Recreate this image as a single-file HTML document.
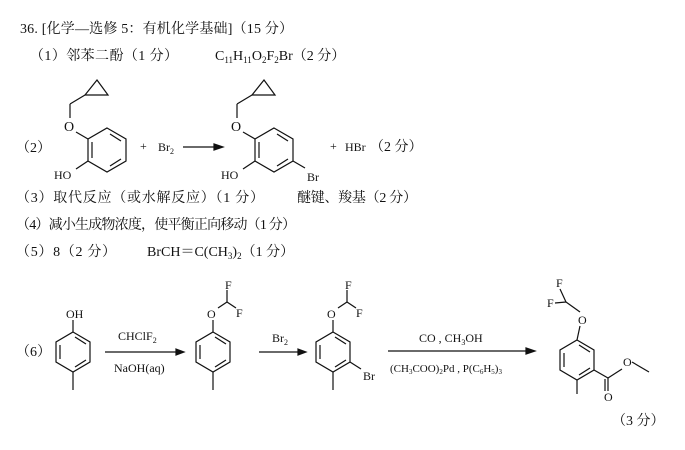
<!DOCTYPE html>
<html><head><meta charset="utf-8"><style>
html,body{margin:0;padding:0;background:#fff;}
svg{display:block}
text{font-family:"Liberation Serif","Noto Serif CJK SC",serif;fill:#111;font-size:14px}
.c{font-family:"Liberation Serif","Noto Serif CJK SC","Noto Sans CJK SC",serif;font-size:14px}
.s{font-size:12px}
line,polyline,polygon{stroke:#111;stroke-width:1.2;fill:none}
</style></head><body>
<svg width="685" height="450" viewBox="0 0 685 450">
<text x="20" y="33" class="c" textLength="273">36. [化学—选修 5：有机化学基础]（15 分）</text>
<text x="30" y="60" class="c" textLength="148">（1）邻苯二酚（1 分）</text>
<text x="215" y="60">C<tspan font-size="9" dy="3">11</tspan><tspan dy="-3">H</tspan><tspan font-size="9" dy="3">11</tspan><tspan dy="-3">O</tspan><tspan font-size="9" dy="3">2</tspan><tspan dy="-3">F</tspan><tspan font-size="9" dy="3">2</tspan><tspan dy="-3">Br（2 分）</tspan></text>

<!-- (2) -->
<text x="16" y="152" class="c">（2）</text>
<g id="m1">
<polygon points="107,128 126,139 126,161 107,172 88,161 88,139"/>
<line x1="110" y1="134" x2="121" y2="141"/><line x1="121" y1="159" x2="110" y2="166"/><line x1="92" y1="142" x2="92" y2="158"/>
<line x1="88" y1="139" x2="76" y2="132"/>
<text x="64" y="131">O</text>
<line x1="70" y1="118" x2="70" y2="104"/><line x1="70" y1="104" x2="85" y2="95"/>
<polygon points="85,95 108,95 97,80"/>
<line x1="88" y1="161" x2="76" y2="169"/>
<text x="54" y="179" class="s">HO</text>
</g>
<text x="140" y="150" class="s">+</text>
<text x="158" y="151" class="s">Br<tspan font-size="8" dy="3">2</tspan></text>
<line x1="183" y1="147" x2="214" y2="147"/><polygon points="214,144 223,147 214,150" style="fill:#111"/>
<g transform="translate(167,0)">
<polygon points="107,128 126,139 126,161 107,172 88,161 88,139"/>
<line x1="110" y1="134" x2="121" y2="141"/><line x1="121" y1="159" x2="110" y2="166"/><line x1="92" y1="142" x2="92" y2="158"/>
<line x1="88" y1="139" x2="76" y2="132"/>
<text x="64" y="131">O</text>
<line x1="70" y1="118" x2="70" y2="104"/><line x1="70" y1="104" x2="85" y2="95"/>
<polygon points="85,95 108,95 97,80"/>
<line x1="88" y1="161" x2="76" y2="169"/>
<text x="54" y="179" class="s">HO</text>
<line x1="126" y1="161" x2="138" y2="168"/>
<text x="140" y="181" class="s">Br</text>
</g>
<text x="330" y="150" class="s">+</text>
<text x="345" y="151" class="s">HBr</text>
<text x="370" y="151" class="c">（2 分）</text>

<text x="16" y="202" class="c" textLength="248">（3）取代反应（或水解反应）（1 分）</text>
<text x="297" y="202" class="c" textLength="120">醚键、羧基（2 分）</text>
<text x="16" y="229" class="c" textLength="280">（4）减小生成物浓度，使平衡正向移动（1 分）</text>
<text x="16" y="256" class="c" textLength="100">（5）8（2 分）</text>
<text x="147" y="256">BrCH＝C(CH<tspan font-size="9" dy="3">3</tspan><tspan dy="-3">)</tspan><tspan font-size="9" dy="3">2</tspan><tspan dy="-3" class="c">（1 分）</tspan></text>

<!-- (6) -->
<text x="16" y="356" class="c">（6）</text>
<g transform="translate(0,0)">
<polygon points="73,332 90,342 90,362 73,372 56,362 56,342"/>
<line x1="75" y1="337" x2="86" y2="344"/><line x1="86" y1="360" x2="75" y2="367"/><line x1="60" y1="345" x2="60" y2="359"/>
<line x1="73" y1="332" x2="73" y2="320"/><line x1="73" y1="372" x2="73" y2="390"/>
<text x="66" y="318" class="s">OH</text>
</g>
<text x="118" y="340" class="s">CHClF<tspan font-size="8" dy="3">2</tspan></text>
<line x1="105" y1="352" x2="176" y2="352"/><polygon points="176,349 184,352 176,355" style="fill:#111"/>
<text x="114" y="372" class="s">NaOH(aq)</text>
<g transform="translate(140,0)">
<polygon points="73,332 90,342 90,362 73,372 56,362 56,342"/>
<line x1="75" y1="337" x2="86" y2="344"/><line x1="86" y1="360" x2="75" y2="367"/><line x1="60" y1="345" x2="60" y2="359"/>
<line x1="73" y1="332" x2="73" y2="320"/><line x1="73" y1="372" x2="73" y2="390"/>
<text x="67" y="318" class="s">O</text>
<line x1="78" y1="308" x2="87" y2="302"/><line x1="87" y1="302" x2="87" y2="290"/><line x1="87" y1="302" x2="96" y2="308"/>
<text x="85" y="289" class="s">F</text><text x="96" y="317" class="s">F</text>
</g>
<text x="272" y="342" class="s">Br<tspan font-size="8" dy="3">2</tspan></text>
<line x1="259" y1="352" x2="298" y2="352"/><polygon points="298,349 306,352 298,355" style="fill:#111"/>
<g transform="translate(260,0)">
<polygon points="73,332 90,342 90,362 73,372 56,362 56,342"/>
<line x1="75" y1="337" x2="86" y2="344"/><line x1="86" y1="360" x2="75" y2="367"/><line x1="60" y1="345" x2="60" y2="359"/>
<line x1="73" y1="332" x2="73" y2="320"/><line x1="73" y1="372" x2="73" y2="390"/>
<text x="67" y="318" class="s">O</text>
<line x1="78" y1="308" x2="87" y2="302"/><line x1="87" y1="302" x2="87" y2="290"/><line x1="87" y1="302" x2="96" y2="308"/>
<text x="85" y="289" class="s">F</text><text x="96" y="317" class="s">F</text>
<line x1="90" y1="362" x2="101" y2="369"/>
<text x="103" y="380" class="s">Br</text>
</g>
<text x="419" y="342" class="s">CO , CH<tspan font-size="8" dy="3">3</tspan><tspan dy="-3">OH</tspan></text>
<line x1="388" y1="351" x2="526" y2="351"/><polygon points="526,348 535,351 526,354" style="fill:#111"/>
<text x="390" y="372" style="font-size:11px">(CH<tspan font-size="7" dy="2">3</tspan><tspan dy="-2">COO)</tspan><tspan font-size="7" dy="2">2</tspan><tspan dy="-2">Pd , P(C</tspan><tspan font-size="7" dy="2">6</tspan><tspan dy="-2">H</tspan><tspan font-size="7" dy="2">5</tspan><tspan dy="-2">)</tspan><tspan font-size="7" dy="2">3</tspan></text>
<g transform="translate(504,0)">
<polygon points="73,340 90,350 90,370 73,380 56,370 56,350"/>
<line x1="75" y1="345" x2="86" y2="352"/><line x1="60" y1="353" x2="60" y2="367"/><line x1="75" y1="375" x2="86" y2="368"/>
<line x1="73" y1="340" x2="76" y2="326"/>
<text x="74" y="324" class="s">O</text>
<line x1="76" y1="312" x2="62" y2="302"/><line x1="62" y1="302" x2="51" y2="303"/><line x1="62" y1="302" x2="56" y2="289"/>
<text x="43" y="307" class="s">F</text><text x="52" y="287" class="s">F</text>
<line x1="73" y1="380" x2="73" y2="394"/>
<line x1="90" y1="370" x2="104" y2="378"/>
<line x1="104" y1="378" x2="104" y2="391"/><line x1="101" y1="379" x2="101" y2="391"/>
<text x="100" y="401" class="s">O</text>
<line x1="104" y1="378" x2="118" y2="369"/>
<text x="119" y="366" class="s">O</text>
<line x1="128" y1="362" x2="145" y2="372"/>
</g>
<text x="612" y="425" class="c">（3 分）</text>
</svg>
</body></html>
